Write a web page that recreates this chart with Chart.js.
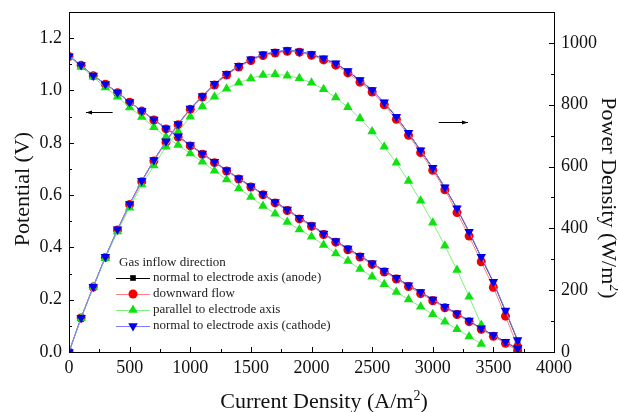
<!DOCTYPE html>
<html><head><meta charset="utf-8">
<script src="https://cdn.jsdelivr.net/npm/chart.js@4.4.1/dist/chart.umd.min.js"></script>
<style>html,body{margin:0;padding:0;background:#fff;}canvas{display:block;}</style>
</head><body>
<canvas id="c" width="618" height="412"></canvas>
<script>
// Current density (A/m2)
const current = [0,100,200,300,400,500,600,700,800,900,1000,1100,1200,1300,1400,1500,1600,1700,1800,1900,2000,2100,2200,2300,2400,2500,2600,2700,2800,2900,3000,3100,3200,3300,3400,3500,3600,3700];
const currentGreen = current.slice(0, 35);
// Potential (V)
const potAnode   = [1.131,1.097,1.057,1.025,0.992,0.956,0.922,0.889,0.855,0.825,0.791,0.759,0.727,0.695,0.664,0.634,0.604,0.574,0.545,0.513,0.485,0.453,0.424,0.396,0.368,0.339,0.311,0.284,0.255,0.229,0.201,0.173,0.147,0.119,0.090,0.064,0.038,0.012];
const potDown    = [1.130,1.096,1.056,1.024,0.991,0.955,0.921,0.887,0.853,0.822,0.788,0.756,0.724,0.692,0.661,0.631,0.601,0.570,0.541,0.509,0.481,0.449,0.420,0.391,0.363,0.335,0.306,0.279,0.250,0.223,0.196,0.169,0.143,0.116,0.087,0.060,0.033,0.005];
const potPar     = [1.130,1.090,1.052,1.011,0.976,0.935,0.899,0.859,0.823,0.791,0.759,0.727,0.693,0.660,0.625,0.593,0.558,0.529,0.497,0.468,0.441,0.409,0.377,0.348,0.317,0.288,0.259,0.229,0.201,0.173,0.144,0.116,0.087,0.059,0.031];
const potCathode = [1.131,1.097,1.057,1.025,0.992,0.956,0.922,0.889,0.855,0.825,0.791,0.759,0.727,0.695,0.664,0.634,0.604,0.574,0.545,0.513,0.485,0.453,0.424,0.396,0.368,0.339,0.311,0.284,0.255,0.229,0.201,0.173,0.148,0.120,0.091,0.065,0.039,0.014];
// Power density (W/m2)
const powAnode   = [0,111,211,307,396,478,553,620,681,737,787,827,867,899,925,946,962,970,976,972,963,949,933,908,879,847,807,760,708,652,595,532,464,388,306,225,132,37];
const powDown    = [0,110,210,306,395,477,551,618,679,735,785,825,864,896,922,943,959,967,973,970,960,945,928,903,873,841,800,753,701,645,588,525,451,375,292,209,116,17];
const powPar     = [0,109,210,303,390,467,542,603,664,713,761,794,826,852,871,885,896,899,894,886,871,850,823,792,756,713,664,612,553,489,418,344,265,179,87];
const powCathode = [0,111,211,308,397,479,554,621,682,738,788,828,868,900,926,947,963,971,977,972,964,950,934,909,880,848,808,761,709,653,596,533,465,389,308,227,134,39];
// Tick labels
const xTicks = [0,500,1000,1500,2000,2500,3000,3500,4000];
const yTicks = [0.0,0.2,0.4,0.6,0.8,1.0,1.2];
const y1Ticks = [0,200,400,600,800,1000];
const seriesNames = ['normal to electrode axis (anode)','downward flow','parallel to electrode axis','normal to electrode axis (cathode)'];
const legendTitle = 'Gas inflow direction';

const SERIF = "'Liberation Serif','DejaVu Serif',serif";
const pts = (xs, ys) => ys.map((v, i) => ({x: xs[i], y: v}));

const styles = [
  {line:'#000000', mark:'#000000', pointStyle:'rect', radius:4, rotation:0},
  {line:'#ff7f7f', mark:'#f40000', pointStyle:'circle', radius:4.5, rotation:0},
  {line:'#7fef7f', mark:'#11e011', pointStyle:'triangle', radius:5.5, rotation:0},
  {line:'#7f7fff', mark:'#0000f0', pointStyle:'triangle', radius:5.5, rotation:180}
];
const orders = [4,3,2,1];
function ds(idx, data, axis) {
  const s = styles[idx];
  return {
    label: seriesNames[idx], data, yAxisID: axis, order: orders[idx],
    borderColor: s.line, borderWidth: 1, backgroundColor: s.mark,
    pointStyle: s.pointStyle, pointRadius: s.radius, pointRotation: s.rotation,
    pointBackgroundColor: s.mark, pointBorderColor: s.mark, pointBorderWidth: 0,
    tension: 0, fill: false, showLine: true
  };
}
const datasets = [
  ds(0, pts(current, potAnode), 'y'), ds(0, pts(current, powAnode), 'y1'),
  ds(1, pts(current, potDown), 'y'), ds(1, pts(current, powDown), 'y1'),
  ds(2, pts(currentGreen, potPar), 'y'), ds(2, pts(currentGreen, powPar), 'y1'),
  ds(3, pts(current, potCathode), 'y'), ds(3, pts(current, powCathode), 'y1')
];

// draws "main" + superscript + "tail", centred at (0,0) on the alphabetic baseline
function supText(ctx, main, sup, tail, size) {
  const big = size + 'px ' + SERIF, small = Math.round(size*0.64) + 'px ' + SERIF;
  ctx.font = big; const w1 = ctx.measureText(main).width, w3 = ctx.measureText(tail).width;
  ctx.font = small; const w2 = ctx.measureText(sup).width;
  let x = -(w1 + w2 + w3) / 2;
  ctx.textAlign = 'left'; ctx.textBaseline = 'alphabetic';
  ctx.font = big; ctx.fillText(main, x, 0); x += w1;
  ctx.font = small; ctx.fillText(sup, x, -size*0.38); x += w2;
  ctx.font = big; ctx.fillText(tail, x, 0);
}

const decor = {
  id: 'decor',
  afterDraw(chart) {
    const ctx = chart.ctx, a = chart.chartArea;
    const sx = chart.scales.x, sy = chart.scales.y, sy1 = chart.scales.y1;
    ctx.save();
    ctx.strokeStyle = '#000'; ctx.lineWidth = 1;
    // frame
    ctx.strokeRect(Math.round(a.left)+0.5, Math.round(a.top)+0.5, Math.round(a.right-a.left), Math.round(a.bottom-a.top));
    // inward ticks
    ctx.beginPath();
    for (let v = 0; v <= 4000; v += 250) {
      const px = Math.round(sx.getPixelForValue(v)) + 0.5;
      const L = (v % 500 === 0) ? 5 : 3;
      ctx.moveTo(px, a.bottom); ctx.lineTo(px, a.bottom - L);
    }
    for (let k = 0; k <= 12; k++) {
      const py = Math.round(sy.getPixelForValue(k/10)) + 0.5;
      const L = (k % 2 === 0) ? 5 : 3;
      ctx.moveTo(a.left, py); ctx.lineTo(a.left + L, py);
    }
    for (let v = 0; v <= 1000; v += 100) {
      const py = Math.round(sy1.getPixelForValue(v)) + 0.5;
      const L = (v % 200 === 0) ? 5 : 3;
      ctx.moveTo(a.right, py); ctx.lineTo(a.right - L, py);
    }
    ctx.stroke();
    // arrows (positioned in data coordinates)
    const arrow = (x0, x1, y, dir) => {
      ctx.beginPath(); ctx.moveTo(x0, y); ctx.lineTo(x1, y); ctx.stroke();
      const tip = dir < 0 ? x0 : x1;
      ctx.beginPath(); ctx.moveTo(tip, y); ctx.lineTo(tip - dir*6, y - 2); ctx.lineTo(tip - dir*6, y + 2); ctx.closePath(); ctx.fillStyle = '#000'; ctx.fill();
    };
    const ay = Math.round(sy.getPixelForValue(0.916)) + 0.5;
    arrow(sx.getPixelForValue(140), sx.getPixelForValue(360), ay, -1);
    const by = Math.round(sy1.getPixelForValue(743)) + 0.5;
    arrow(sx.getPixelForValue(3050), sx.getPixelForValue(3290), by, 1);
    // axis titles
    ctx.fillStyle = '#111';
    ctx.save(); ctx.translate(324, 408); supText(ctx, 'Current Density (A/m', '2', ')', 22); ctx.restore();
    ctx.save(); ctx.translate(29, 189); ctx.rotate(-Math.PI/2);
    ctx.font = '22px ' + SERIF; ctx.textAlign = 'center'; ctx.textBaseline = 'alphabetic';
    ctx.fillText('Potential (V)', 0, 0); ctx.restore();
    ctx.save(); ctx.translate(601.5, 198); ctx.rotate(Math.PI/2); supText(ctx, 'Power Density (W/m', '2', ')', 22); ctx.restore();
    // legend
    ctx.font = '13px ' + SERIF;
    ctx.textAlign = 'left'; ctx.textBaseline = 'middle';
    ctx.fillStyle = '#222';
    ctx.fillText(legendTitle, 119, 263);
    const ly = [278, 294, 310, 326];
    for (let i = 0; i < 4; i++) {
      const s = styles[i];
      ctx.strokeStyle = s.line; ctx.lineWidth = 1;
      ctx.beginPath(); ctx.moveTo(116, ly[i]+0.5); ctx.lineTo(150, ly[i]+0.5); ctx.stroke();
      ctx.fillStyle = s.mark; ctx.strokeStyle = s.mark;
      Chart.helpers.drawPoint(ctx, {pointStyle: s.pointStyle, radius: s.radius, rotation: s.rotation, borderWidth: 0}, 133, ly[i]);
      ctx.fillStyle = '#222';
      ctx.fillText(seriesNames[i], 153, ly[i]);
    }
    ctx.restore();
  }
};

const tickFont = {family: SERIF, size: 18};
const noPad = s => { s.paddingTop = 0; s.paddingBottom = 0; s.paddingLeft = 0; s.paddingRight = 0; };
new Chart(document.getElementById('c'), {
  type: 'scatter',
  data: {datasets},
  options: {
    responsive: false, animation: false, devicePixelRatio: 1,
    layout: {padding: {top: 12, left: 0, right: 0, bottom: 0}},
    plugins: {legend: {display: false}, tooltip: {enabled: false}},
    scales: {
      x: {type: 'linear', min: 0, max: 4000,
        afterBuildTicks: s => { s.ticks = xTicks.map(v => ({value: v})); },
        afterFit: s => { s.height = 60; noPad(s); },
        grid: {display: false, drawTicks: false}, border: {display: false},
        ticks: {font: tickFont, color: '#111', padding: 5, maxRotation: 0, autoSkip: false, callback: v => String(v)}},
      y: {type: 'linear', position: 'left', min: 0, max: 1.3,
        afterBuildTicks: s => { s.ticks = yTicks.map(v => ({value: v})); },
        afterFit: s => { s.width = 69; noPad(s); },
        grid: {display: false, drawTicks: false}, border: {display: false},
        ticks: {font: tickFont, color: '#111', padding: 7, autoSkip: false, callback: v => Number(v).toFixed(1)}},
      y1: {type: 'linear', position: 'right', min: 0, max: 1100,
        afterBuildTicks: s => { s.ticks = y1Ticks.map(v => ({value: v})); },
        afterFit: s => { s.width = 64; noPad(s); },
        grid: {display: false, drawTicks: false}, border: {display: false},
        ticks: {font: tickFont, color: '#111', padding: 7, autoSkip: false, callback: v => String(v)}}
    }
  },
  plugins: [decor]
});
</script>
</body></html>
